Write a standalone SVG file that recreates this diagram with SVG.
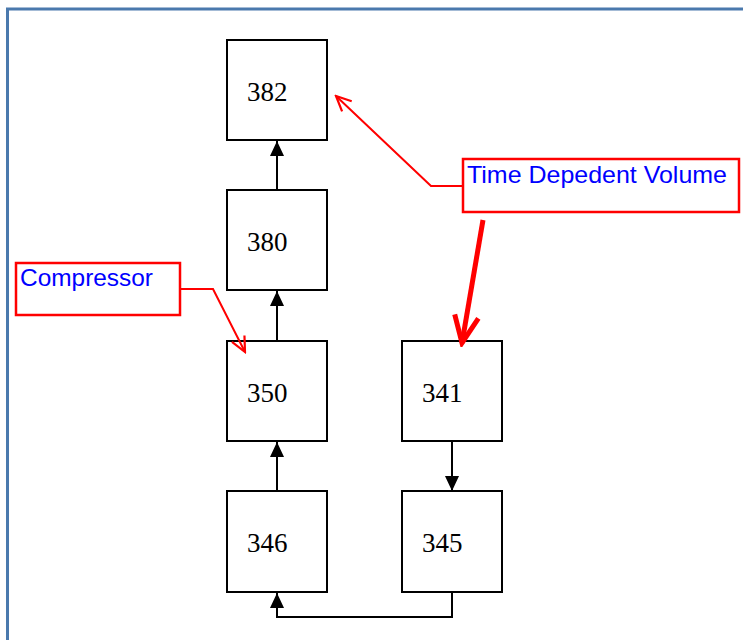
<svg xmlns="http://www.w3.org/2000/svg" width="743" height="640" viewBox="0 0 743 640">
  <style>
    .box { fill: #ffffff; stroke: #000000; stroke-width: 2; }
    .num { font-family: "Liberation Serif", "Times New Roman", serif; font-size: 27px; fill: #000000; }
    .wire { fill: none; stroke: #000000; stroke-width: 2; }
    .note { fill: #ffffff; stroke: #ff0000; stroke-width: 2.5; }
    .note-text { font-family: "Liberation Sans", Arial, sans-serif; font-size: 24px; fill: #0000ff; }
    .lead { fill: none; stroke: #ff0000; stroke-width: 2; }
    .lead-bold { fill: none; stroke: #ff0000; stroke-width: 5; }
  </style>
  <defs>
    <marker id="tri" markerUnits="userSpaceOnUse" markerWidth="16" markerHeight="16" viewBox="0 0 16 16" refX="15" refY="8" orient="auto">
      <path d="M0,1 L15,8 L0,15 Z" fill="#000000"/>
    </marker>
    <marker id="open" markerUnits="userSpaceOnUse" markerWidth="18" markerHeight="18" viewBox="0 0 18 18" refX="16" refY="9" orient="auto">
      <path d="M1,2 L16,9 L1,16" fill="none" stroke="#ff0000" stroke-width="2.2"/>
    </marker>
    <marker id="open-bold" markerUnits="userSpaceOnUse" markerWidth="34" markerHeight="34" viewBox="0 0 34 34" refX="30" refY="17" orient="auto">
      <path d="M3,5 L30,17 L3,29" fill="none" stroke="#ff0000" stroke-width="5"/>
    </marker>
  </defs>

  <rect width="743" height="640" fill="#ffffff"/>
  <!-- page frame -->
  <rect x="7.5" y="9" width="745" height="640" fill="none" stroke="#4a79ad" stroke-width="3"/>

  <g id="connectors">
    <line class="wire" x1="277" y1="190" x2="277" y2="141" marker-end="url(#tri)"/>
    <line class="wire" x1="277" y1="341" x2="277" y2="291" marker-end="url(#tri)"/>
    <line class="wire" x1="277" y1="491" x2="277" y2="442" marker-end="url(#tri)"/>
    <line class="wire" x1="452" y1="441" x2="452" y2="491" marker-end="url(#tri)"/>
    <polyline class="wire" points="452,592 452,617 277,617 277,593" marker-end="url(#tri)"/>
  </g>

  <g id="n382">
    <rect class="box" x="227" y="40" width="100" height="100"/>
    <text class="num" x="247" y="101">382</text>
  </g>
  <g id="n380">
    <rect class="box" x="227" y="190" width="100" height="100"/>
    <text class="num" x="247" y="251">380</text>
  </g>
  <g id="n350">
    <rect class="box" x="227" y="341" width="100" height="100"/>
    <text class="num" x="247" y="402">350</text>
  </g>
  <g id="n346">
    <rect class="box" x="227" y="491" width="100" height="101"/>
    <text class="num" x="247" y="552">346</text>
  </g>
  <g id="n341">
    <rect class="box" x="402" y="341" width="100" height="100"/>
    <text class="num" x="422" y="402">341</text>
  </g>
  <g id="n345">
    <rect class="box" x="402" y="491" width="100" height="101"/>
    <text class="num" x="422" y="552">345</text>
  </g>

  <g id="callout-compressor">
    <rect class="note" x="16" y="263" width="164" height="52"/>
    <text class="note-text" x="20" y="286" textLength="133" lengthAdjust="spacingAndGlyphs">Compressor</text>
    <polyline class="lead" points="180,289 213,289 245,352" marker-end="url(#open)"/>
  </g>

  <g id="callout-volume">
    <rect class="note" x="463" y="159" width="276" height="53"/>
    <text class="note-text" x="467" y="183" textLength="260" lengthAdjust="spacingAndGlyphs">Time Depedent Volume</text>
    <polyline class="lead" points="463,186 431,186 336,96" marker-end="url(#open)"/>
    <line class="lead-bold" x1="483" y1="220" x2="462" y2="343" marker-end="url(#open-bold)"/>
  </g>
</svg>
